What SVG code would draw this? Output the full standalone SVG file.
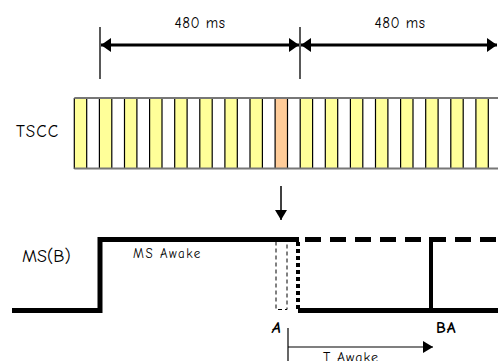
<svg xmlns="http://www.w3.org/2000/svg" width="498" height="361" viewBox="0 0 498 361">
<defs>
<style>
text{font-family:"Comic Neue","Liberation Sans",sans-serif;fill:#000}
.y{fill:#FFFF99}
.o{fill:#FFCC99}
.div{stroke:#000;stroke-width:1.2}
.dim{stroke:#000;stroke-width:3;fill:none}
.tick{stroke:#222;stroke-width:1.5}
.sig{stroke:#000;stroke-width:5;fill:none}
</style>
<marker id="ah" viewBox="0 0 10 14" refX="10" refY="7" markerWidth="10" markerHeight="14" markerUnits="userSpaceOnUse" orient="auto-start-reverse">
<path d="M0,0 L10,7 L0,14 Z" fill="#000"/>
</marker>
<marker id="as" viewBox="0 0 10 12" refX="10" refY="6" markerWidth="10" markerHeight="12" markerUnits="userSpaceOnUse" orient="auto">
<path d="M0,0 L10,6 L0,12 Z" fill="#000"/>
</marker>
</defs>
<g id="connectors">
<line class="tick" x1="100" y1="27" x2="100" y2="79"/>
<line class="tick" x1="300" y1="27" x2="300" y2="79"/>
<line class="dim" x1="101" y1="45" x2="299" y2="45" marker-start="url(#ah)" marker-end="url(#ah)"/>
<line class="dim" x1="301" y1="45" x2="497" y2="45" marker-start="url(#ah)" marker-end="url(#ah)"/>
<line x1="281" y1="186" x2="281" y2="220" stroke="#000" stroke-width="1.5" marker-end="url(#as)"/>
<line x1="288" y1="328" x2="288" y2="361" stroke="#000" stroke-width="1.2"/>
<line x1="288" y1="347" x2="433" y2="347" stroke="#000" stroke-width="1.2" marker-end="url(#as)"/>
</g>
<g id="label-480a"><text x="200" y="28" font-size="15" letter-spacing="0.5" text-anchor="middle">480 ms</text></g>
<g id="label-480b"><text x="400" y="28" font-size="15" letter-spacing="0.5" text-anchor="middle">480 ms</text></g>
<g id="tscc">
<text x="16" y="137" font-size="17" letter-spacing="1">TSCC</text>
<rect x="74.3" y="98" width="430" height="71" fill="#fff"/>
<g id="cells">
<rect class="y" x="74.3" y="98" width="12.4" height="71"/>
<rect class="y" x="99.4" y="98" width="12.4" height="71"/>
<rect class="y" x="124.5" y="98" width="12.4" height="71"/>
<rect class="y" x="149.6" y="98" width="12.4" height="71"/>
<rect class="y" x="174.7" y="98" width="12.4" height="71"/>
<rect class="y" x="199.8" y="98" width="12.4" height="71"/>
<rect class="y" x="224.9" y="98" width="12.4" height="71"/>
<rect class="y" x="250" y="98" width="12.4" height="71"/>
<rect class="o" x="275.1" y="98" width="12.4" height="71"/>
<rect class="y" x="300.2" y="98" width="12.4" height="71"/>
<rect class="y" x="325.3" y="98" width="12.4" height="71"/>
<rect class="y" x="350.4" y="98" width="12.4" height="71"/>
<rect class="y" x="375.5" y="98" width="12.4" height="71"/>
<rect class="y" x="400.6" y="98" width="12.4" height="71"/>
<rect class="y" x="425.7" y="98" width="12.4" height="71"/>
<rect class="y" x="450.8" y="98" width="12.4" height="71"/>
<rect class="y" x="475.9" y="98" width="12.4" height="71"/>
</g>
<path class="div" d="M74.3,98V169M86.7,98V169M99.4,98V169M111.8,98V169M124.5,98V169M136.9,98V169M149.6,98V169M162,98V169M174.7,98V169M187.1,98V169M199.8,98V169M212.2,98V169M224.9,98V169M237.3,98V169M250,98V169M262.4,98V169M275.1,98V169M287.5,98V169M300.2,98V169M312.6,98V169M325.3,98V169M337.7,98V169M350.4,98V169M362.8,98V169M375.5,98V169M387.9,98V169M400.6,98V169M413,98V169M425.7,98V169M438.1,98V169M450.8,98V169M463.2,98V169M475.9,98V169M488.3,98V169"/>
<path d="M74.3,98H498M74.3,168.5H498" stroke="#777" stroke-width="2"/>
</g>
<g id="msb">
<text x="22" y="262" font-size="18">MS(B)</text>
<text x="133" y="258" font-size="13" letter-spacing="1.5">MS Awake</text>
<path class="sig" d="M12,310.5H100V239.5H299"/>
<path d="M305,239.5H498" stroke="#000" stroke-width="5" stroke-dasharray="16 9"/>
<path d="M298,242V310" stroke="#000" stroke-width="4" stroke-dasharray="4 3"/>
<path class="sig" d="M298,310.5H498"/>
<path d="M431,237V310" stroke="#000" stroke-width="4"/>
<rect x="276" y="241.5" width="11" height="68" fill="none" stroke="#000" stroke-width="1" stroke-dasharray="4 3"/>
</g>
<g id="label-a"><text x="272" y="333" font-size="16" font-weight="bold" font-style="italic">A</text></g>
<g id="label-ba"><text x="436" y="333" font-size="16" font-weight="bold" letter-spacing="1">BA</text></g>
<g id="label-tawake"><text x="323" y="362" font-size="14" letter-spacing="1">T Awake</text></g>
</svg>
